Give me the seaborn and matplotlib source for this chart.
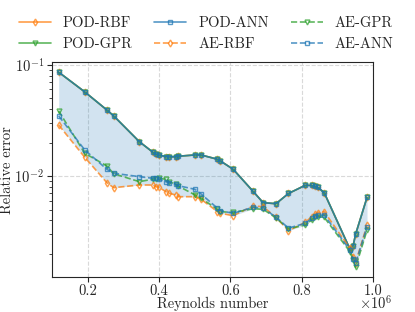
import matplotlib
matplotlib.use("Agg")
import matplotlib.pyplot as plt
from matplotlib.ticker import FuncFormatter
import numpy as np
import pandas as pd
import seaborn as sns

# Reynolds numbers (x 1e6) and relative errors
reynolds = [0.119, 0.192, 0.254, 0.273, 0.345, 0.382, 0.391, 0.400, 0.419, 0.428,
            0.447, 0.454, 0.501, 0.518, 0.564, 0.572, 0.608, 0.664, 0.692, 0.728,
            0.763, 0.810, 0.828, 0.837, 0.846, 0.863, 0.935, 0.944, 0.951, 0.983]

pod_ann = [0.0858, 0.0571, 0.0393, 0.0348, 0.0204, 0.0165, 0.0158, 0.0155, 0.01496, 0.01487,
           0.01496, 0.01509, 0.0155, 0.0155, 0.01418, 0.0137, 0.01153, 0.00729, 0.00578, 0.00566,
           0.00699, 0.00828, 0.00825, 0.00811, 0.00791, 0.00711, 0.00222, 0.00236, 0.00301, 0.00644]
pod_rbf = list(pod_ann)
pod_gpr = list(pod_ann)

ae_ann = [0.0348, 0.0172, 0.01153, 0.01062, 0.0099, 0.00957, 0.00957, 0.00938, 0.00892, 0.00874,
          0.00851, 0.00821, 0.00762, 0.00692, 0.00515, 0.0049, 0.00464, 0.00526, 0.00518, 0.00427,
          0.00342, 0.00377, 0.00418, 0.00439, 0.00445, 0.00448, 0.00217, 0.00181, 0.00165, 0.00352]
ae_gpr = [0.0385, 0.01606, 0.01235, 0.01053, 0.00892, 0.00938, 0.00944, 0.00957, 0.00938, 0.00892,
          0.00846, 0.00816, 0.00678, 0.00633, 0.00504, 0.0048, 0.00472, 0.0051, 0.00504, 0.00421,
          0.00337, 0.00364, 0.00404, 0.00427, 0.00433, 0.00427, 0.0021, 0.00177, 0.00152, 0.00328]
ae_rbf = [0.0288, 0.01478, 0.00874, 0.00788, 0.00833, 0.00833, 0.00805, 0.00795, 0.00726, 0.00702,
          0.00678, 0.00654, 0.00654, 0.0062, 0.0048, 0.00464, 0.00442, 0.0054, 0.00532, 0.00427,
          0.00324, 0.00385, 0.00433, 0.00457, 0.0047, 0.0048, 0.00225, 0.00189, 0.00167, 0.00364]

x = np.array(reynolds) * 1e6

sns.set_style("ticks")
plt.rcParams['font.family'] = ['serif']
plt.rcParams['font.serif'] = ['cmr10', 'DejaVu Serif']
plt.rcParams['mathtext.fontset'] = 'cm'
plt.rcParams['axes.formatter.use_mathtext'] = True
plt.rcParams['axes.unicode_minus'] = False
plt.rcParams['font.size'] = 10.5
plt.rcParams['xtick.major.pad'] = 2
plt.rcParams['ytick.major.pad'] = 2

pal = sns.color_palette("tab10")
blue, orange, green = pal[0], pal[1], pal[2]

fig, ax = plt.subplots(figsize=(4.15, 3.12), dpi=100)
fig.subplots_adjust(left=0.125, right=0.899, bottom=0.112, top=0.80)

series = [
    ("POD-RBF", pod_rbf, orange, "-", "d"),
    ("POD-GPR", pod_gpr, green, "-", "v"),
    ("POD-ANN", pod_ann, blue, "-", "s"),
    ("AE-RBF", ae_rbf, orange, "--", "d"),
    ("AE-GPR", ae_gpr, green, "--", "v"),
    ("AE-ANN", ae_ann, blue, "--", "s"),
]

all_vals = np.array([s[1] for s in series])
ax.fill_between(x, all_vals.min(axis=0), all_vals.max(axis=0), color=blue, alpha=0.2, lw=0)

for name, vals, col, ls, mk in series:
    df = pd.DataFrame({"Re": x, "err": vals})
    sns.lineplot(data=df, x="Re", y="err", ax=ax, color=col, linestyle=ls, marker=mk,
                 markersize=3.5, markerfacecolor="none", markeredgecolor=col,
                 markeredgewidth=1.0, lw=1.2, alpha=0.75, label=name)

ax.set_yscale("log")
ax.set_xlim(1e5, 1e6)
ax.set_xticks([0.2e6, 0.4e6, 0.6e6, 0.8e6, 1.0e6])
ax.xaxis.set_major_formatter(FuncFormatter(lambda v, p: f"{v / 1e6:.1f}"))
ax.text(1.06, -0.08, r"$\times10^{6}$", transform=ax.transAxes, ha="right", va="top")
ax.grid(True, which="major", linestyle="--", color="0.85", lw=0.8)
ax.set_xlabel("Reynolds number", labelpad=-1)
ax.set_ylabel("Relative error", labelpad=0)

ax.legend(loc="lower center", bbox_to_anchor=(0.48, 1.0), ncol=3, frameon=False,
          fontsize=10.5, handlelength=2.2, columnspacing=1.5, borderaxespad=0.4)

fig.savefig("out.png", dpi=100)
